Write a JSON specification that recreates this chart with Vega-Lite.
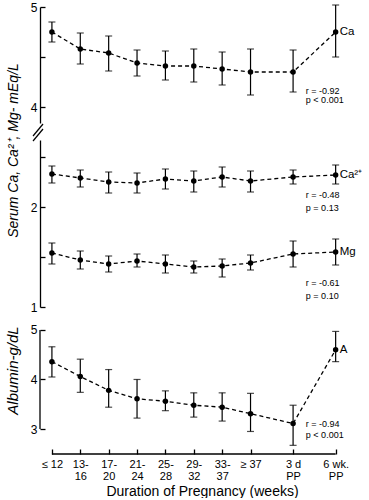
{
  "$schema": "https://vega.github.io/schema/vega-lite/v6.json",
  "padding": {"left": 5, "top": 1, "right": 0, "bottom": 0},
  "background": "white",
  "config": {
    "view": {"stroke": null},
    "font": "Liberation Sans",
    "axis": {"domainColor": "black", "tickColor": "black", "labelColor": "black", "titleColor": "black", "labelFont": "Liberation Sans", "titleFont": "Liberation Sans", "domainWidth": 1.3, "tickWidth": 1.3, "grid": false},
    "axisX": {"labelOverlap": false},
    "text": {"font": "Liberation Sans", "color": "black"}
  },
  "datasets": {
    "pts": [
      {"panel": 1, "series": "Ca", "x": 0, "mean": 4.75, "lo": 4.65, "hi": 4.85},
      {"panel": 1, "series": "Ca", "x": 1, "mean": 4.58, "lo": 4.43, "hi": 4.74},
      {"panel": 1, "series": "Ca", "x": 2, "mean": 4.54, "lo": 4.36, "hi": 4.71},
      {"panel": 1, "series": "Ca", "x": 3, "mean": 4.44, "lo": 4.31, "hi": 4.57},
      {"panel": 1, "series": "Ca", "x": 4, "mean": 4.41, "lo": 4.27, "hi": 4.56},
      {"panel": 1, "series": "Ca", "x": 5, "mean": 4.41, "lo": 4.25, "hi": 4.58},
      {"panel": 1, "series": "Ca", "x": 6, "mean": 4.38, "lo": 4.22, "hi": 4.55},
      {"panel": 1, "series": "Ca", "x": 7, "mean": 4.35, "lo": 4.12, "hi": 4.58},
      {"panel": 1, "series": "Ca", "x": 8.5, "mean": 4.35, "lo": 4.15, "hi": 4.57},
      {"panel": 1, "series": "Ca", "x": 10, "mean": 4.75, "lo": 4.50, "hi": 5.02},
      {"panel": 2, "series": "Ca²⁺", "x": 0, "mean": 2.33, "lo": 2.24, "hi": 2.41},
      {"panel": 2, "series": "Ca²⁺", "x": 1, "mean": 2.29, "lo": 2.20, "hi": 2.37},
      {"panel": 2, "series": "Ca²⁺", "x": 2, "mean": 2.25, "lo": 2.14, "hi": 2.35},
      {"panel": 2, "series": "Ca²⁺", "x": 3, "mean": 2.24, "lo": 2.14, "hi": 2.34},
      {"panel": 2, "series": "Ca²⁺", "x": 4, "mean": 2.28, "lo": 2.18, "hi": 2.38},
      {"panel": 2, "series": "Ca²⁺", "x": 5, "mean": 2.26, "lo": 2.15, "hi": 2.36},
      {"panel": 2, "series": "Ca²⁺", "x": 6, "mean": 2.30, "lo": 2.20, "hi": 2.40},
      {"panel": 2, "series": "Ca²⁺", "x": 7, "mean": 2.26, "lo": 2.15, "hi": 2.36},
      {"panel": 2, "series": "Ca²⁺", "x": 8.5, "mean": 2.30, "lo": 2.23, "hi": 2.37},
      {"panel": 2, "series": "Ca²⁺", "x": 10, "mean": 2.32, "lo": 2.23, "hi": 2.42},
      {"panel": 2, "series": "Mg", "x": 0, "mean": 1.54, "lo": 1.43, "hi": 1.64},
      {"panel": 2, "series": "Mg", "x": 1, "mean": 1.47, "lo": 1.38, "hi": 1.56},
      {"panel": 2, "series": "Mg", "x": 2, "mean": 1.43, "lo": 1.35, "hi": 1.51},
      {"panel": 2, "series": "Mg", "x": 3, "mean": 1.46, "lo": 1.40, "hi": 1.53},
      {"panel": 2, "series": "Mg", "x": 4, "mean": 1.43, "lo": 1.34, "hi": 1.52},
      {"panel": 2, "series": "Mg", "x": 5, "mean": 1.40, "lo": 1.34, "hi": 1.46},
      {"panel": 2, "series": "Mg", "x": 6, "mean": 1.41, "lo": 1.30, "hi": 1.48},
      {"panel": 2, "series": "Mg", "x": 7, "mean": 1.44, "lo": 1.37, "hi": 1.52},
      {"panel": 2, "series": "Mg", "x": 8.5, "mean": 1.53, "lo": 1.40, "hi": 1.66},
      {"panel": 2, "series": "Mg", "x": 10, "mean": 1.55, "lo": 1.42, "hi": 1.68},
      {"panel": 3, "series": "A", "x": 0, "mean": 4.36, "lo": 4.05, "hi": 4.66},
      {"panel": 3, "series": "A", "x": 1, "mean": 4.06, "lo": 3.74, "hi": 4.41},
      {"panel": 3, "series": "A", "x": 2, "mean": 3.78, "lo": 3.44, "hi": 4.20},
      {"panel": 3, "series": "A", "x": 3, "mean": 3.61, "lo": 3.22, "hi": 4.00},
      {"panel": 3, "series": "A", "x": 4, "mean": 3.56, "lo": 3.37, "hi": 3.77},
      {"panel": 3, "series": "A", "x": 5, "mean": 3.48, "lo": 3.24, "hi": 3.73},
      {"panel": 3, "series": "A", "x": 6, "mean": 3.44, "lo": 3.16, "hi": 3.73},
      {"panel": 3, "series": "A", "x": 7, "mean": 3.31, "lo": 2.95, "hi": 3.72},
      {"panel": 3, "series": "A", "x": 8.5, "mean": 3.11, "lo": 2.67, "hi": 3.48},
      {"panel": 3, "series": "A", "x": 10, "mean": 4.60, "lo": 4.36, "hi": 4.97}
    ],
    "notes": [
      {"panel": 1, "x": 8.95, "y": 4.16, "text": "r = -0.92"},
      {"panel": 1, "x": 8.95, "y": 4.07, "text": "p < 0.001"},
      {"panel": 2, "x": 8.95, "y": 2.12, "text": "r = -0.48"},
      {"panel": 2, "x": 8.95, "y": 1.99, "text": "p = 0.13"},
      {"panel": 2, "x": 8.95, "y": 1.24, "text": "r = -0.61"},
      {"panel": 2, "x": 8.95, "y": 1.11, "text": "p = 0.10"},
      {"panel": 3, "x": 8.95, "y": 3.10, "text": "r = -0.94"},
      {"panel": 3, "x": 8.95, "y": 2.88, "text": "p < 0.001"}
    ],
    "breakmarks": [
      {"xa": -0.666, "xb": -0.314, "ya": 3.71, "yb": 3.83},
      {"xa": -0.666, "xb": -0.314, "ya": 3.66, "yb": 3.78}
    ],
    "xrange": [
      {"xa": 0, "xb": 10, "y": 2.495}
    ]
  },
  "bounds": "flush",
  "spacing": 17,
  "vconcat": [
    {
      "width": 307,
      "height": 116,
      "layer": [
        {
          "data": {"name": "pts"},
          "transform": [{"filter": "datum.panel == 1"}],
          "layer": [
            {"mark": {"type": "line", "strokeDash": [4, 3], "strokeWidth": 1.3, "color": "black"},
             "encoding": {
               "x": {"field": "x", "type": "quantitative", "scale": {"domain": [-0.42, 10.4], "nice": false, "zero": false}, "axis": null},
               "y": {"field": "mean", "type": "quantitative", "title": null, "scale": {"domain": [3.84, 5], "nice": false, "zero": false},
                     "axis": {"values": [4, 4.5, 5], "labelExpr": "datum.value % 1 == 0 ? format(datum.value, 'd') : ''", "tickSize": -5, "labelPadding": 8, "labelFontSize": 12}},
               "detail": {"field": "series"}}},
            {"mark": {"type": "rule", "strokeWidth": 1.2, "color": "black"},
             "encoding": {"x": {"field": "x", "type": "quantitative"}, "y": {"field": "lo", "type": "quantitative", "title": null}, "y2": {"field": "hi"}}},
            {"mark": {"type": "tick", "orient": "horizontal", "size": 7, "thickness": 1.2, "color": "black"},
             "encoding": {"x": {"field": "x", "type": "quantitative"}, "y": {"field": "lo", "type": "quantitative", "title": null}}},
            {"mark": {"type": "tick", "orient": "horizontal", "size": 7, "thickness": 1.2, "color": "black"},
             "encoding": {"x": {"field": "x", "type": "quantitative"}, "y": {"field": "hi", "type": "quantitative", "title": null}}},
            {"mark": {"type": "point", "filled": true, "size": 30, "color": "black", "opacity": 1},
             "encoding": {"x": {"field": "x", "type": "quantitative"}, "y": {"field": "mean", "type": "quantitative", "title": null}}},
            {"mark": {"type": "text", "align": "left", "dx": 4, "fontSize": 11.5, "baseline": "middle"},
             "transform": [{"filter": "datum.x == 10"}],
             "encoding": {"x": {"field": "x", "type": "quantitative"}, "y": {"field": "mean", "type": "quantitative", "title": null}, "text": {"field": "series"}}}
          ]
        },
        {
          "data": {"name": "notes"},
          "transform": [{"filter": "datum.panel == 1"}],
          "mark": {"type": "text", "align": "left", "baseline": "middle", "fontSize": 9},
          "encoding": {"x": {"field": "x", "type": "quantitative"}, "y": {"field": "y", "type": "quantitative", "title": null}, "text": {"field": "text"}}
        },
        {
          "data": {"name": "breakmarks"},
          "mark": {"type": "rule", "strokeWidth": 1.2, "color": "black"},
          "encoding": {"x": {"field": "xa", "type": "quantitative"}, "x2": {"field": "xb"}, "y": {"field": "ya", "type": "quantitative", "title": null}, "y2": {"field": "yb"}}
        }
      ]
    },
    {
      "width": 307,
      "height": 167,
      "layer": [
        {
          "data": {"name": "pts"},
          "transform": [{"filter": "datum.panel == 2"}],
          "layer": [
            {"mark": {"type": "line", "strokeDash": [4, 3], "strokeWidth": 1.3, "color": "black"},
             "encoding": {
               "x": {"field": "x", "type": "quantitative", "scale": {"domain": [-0.42, 10.4], "nice": false, "zero": false}, "axis": null},
               "y": {"field": "mean", "type": "quantitative", "title": "Serum Ca, Ca²⁺, Mg- mEq/L", "scale": {"domain": [1, 2.67], "nice": false, "zero": false},
                     "axis": {"values": [1, 1.5, 2, 2.5], "labelExpr": "datum.value % 1 == 0 ? format(datum.value, 'd') : ''", "tickSize": -5, "labelPadding": 8, "labelFontSize": 12,
                              "titleFontSize": 14, "titleFontStyle": "italic", "titleFontWeight": "normal", "titlePadding": 10, "titleY": 10}},
               "detail": {"field": "series"}}},
            {"mark": {"type": "rule", "strokeWidth": 1.2, "color": "black"},
             "encoding": {"x": {"field": "x", "type": "quantitative"}, "y": {"field": "lo", "type": "quantitative", "title": "Serum Ca, Ca²⁺, Mg- mEq/L"}, "y2": {"field": "hi"}}},
            {"mark": {"type": "tick", "orient": "horizontal", "size": 7, "thickness": 1.2, "color": "black"},
             "encoding": {"x": {"field": "x", "type": "quantitative"}, "y": {"field": "lo", "type": "quantitative", "title": "Serum Ca, Ca²⁺, Mg- mEq/L"}}},
            {"mark": {"type": "tick", "orient": "horizontal", "size": 7, "thickness": 1.2, "color": "black"},
             "encoding": {"x": {"field": "x", "type": "quantitative"}, "y": {"field": "hi", "type": "quantitative", "title": "Serum Ca, Ca²⁺, Mg- mEq/L"}}},
            {"mark": {"type": "point", "filled": true, "size": 30, "color": "black", "opacity": 1},
             "encoding": {"x": {"field": "x", "type": "quantitative"}, "y": {"field": "mean", "type": "quantitative", "title": "Serum Ca, Ca²⁺, Mg- mEq/L"}}},
            {"mark": {"type": "text", "align": "left", "dx": 4, "fontSize": 11.5, "baseline": "middle"},
             "transform": [{"filter": "datum.x == 10"}],
             "encoding": {"x": {"field": "x", "type": "quantitative"}, "y": {"field": "mean", "type": "quantitative", "title": "Serum Ca, Ca²⁺, Mg- mEq/L"}, "text": {"field": "series"}}}
          ]
        },
        {
          "data": {"name": "notes"},
          "transform": [{"filter": "datum.panel == 2"}],
          "mark": {"type": "text", "align": "left", "baseline": "middle", "fontSize": 9},
          "encoding": {"x": {"field": "x", "type": "quantitative"}, "y": {"field": "y", "type": "quantitative", "title": "Serum Ca, Ca²⁺, Mg- mEq/L"}, "text": {"field": "text"}}
        }
      ]
    },
    {
      "width": 307,
      "height": 105,
      "encoding": {
        "x": {"type": "quantitative", "title": "Duration of Pregnancy (weeks)", "scale": {"domain": [-0.42, 10.4], "nice": false, "zero": false},
              "axis": {"values": [0, 1, 2, 3, 4, 5, 6, 7, 8.5, 10], "domain": false, "offset": 20, "tickSize": 5, "labelPadding": 4, "labelFontSize": 11, "labelLineHeight": 12, "labelAngle": 0, "labelOverlap": false,
                       "labelExpr": "datum.value == 0 ? '≤ 12' : datum.value == 1 ? ['13-','16'] : datum.value == 2 ? ['17-','20'] : datum.value == 3 ? ['21-','24'] : datum.value == 4 ? ['25-','28'] : datum.value == 5 ? ['29-','32'] : datum.value == 6 ? ['33-','37'] : datum.value == 7 ? '≥ 37' : datum.value == 8.5 ? ['3 d','PP'] : ['6 wk.','PP']",
                       "titleFontSize": 14, "titleFontWeight": "normal", "titlePadding": 3, "titleX": 162}}
      },
      "layer": [
        {
          "data": {"name": "pts"},
          "transform": [{"filter": "datum.panel == 3"}],
          "layer": [
            {"mark": {"type": "line", "strokeDash": [4, 3], "strokeWidth": 1.3, "color": "black"},
             "encoding": {
               "x": {"field": "x"},
               "y": {"field": "mean", "type": "quantitative", "title": "Albumin-g/dL", "scale": {"domain": [3, 5.12], "nice": false, "zero": false},
                     "axis": {"values": [3, 4, 5], "domain": false, "labelExpr": "format(datum.value, 'd')", "tickSize": -5, "labelPadding": 8, "labelFontSize": 12,
                              "titleFontSize": 15, "titleFontStyle": "italic", "titleFontWeight": "normal", "titlePadding": 10, "titleY": 46}},
               "detail": {"field": "series"}}},
            {"mark": {"type": "rule", "strokeWidth": 1.2, "color": "black"},
             "encoding": {"x": {"field": "x"}, "y": {"field": "lo", "type": "quantitative", "title": "Albumin-g/dL"}, "y2": {"field": "hi"}}},
            {"mark": {"type": "tick", "orient": "horizontal", "size": 7, "thickness": 1.2, "color": "black"},
             "encoding": {"x": {"field": "x"}, "y": {"field": "lo", "type": "quantitative", "title": "Albumin-g/dL"}}},
            {"mark": {"type": "tick", "orient": "horizontal", "size": 7, "thickness": 1.2, "color": "black"},
             "encoding": {"x": {"field": "x"}, "y": {"field": "hi", "type": "quantitative", "title": "Albumin-g/dL"}}},
            {"mark": {"type": "point", "filled": true, "size": 30, "color": "black", "opacity": 1},
             "encoding": {"x": {"field": "x"}, "y": {"field": "mean", "type": "quantitative", "title": "Albumin-g/dL"}}},
            {"mark": {"type": "text", "align": "left", "dx": 4, "fontSize": 11.5, "baseline": "middle"},
             "transform": [{"filter": "datum.x == 10"}],
             "encoding": {"x": {"field": "x"}, "y": {"field": "mean", "type": "quantitative", "title": "Albumin-g/dL"}, "text": {"field": "series"}}}
          ]
        },
        {
          "data": {"name": "notes"},
          "transform": [{"filter": "datum.panel == 3"}],
          "mark": {"type": "text", "align": "left", "baseline": "middle", "fontSize": 9},
          "encoding": {"x": {"field": "x"}, "y": {"field": "y", "type": "quantitative", "title": "Albumin-g/dL"}, "text": {"field": "text"}}
        },
        {
          "data": {"name": "xrange"},
          "mark": {"type": "rule", "strokeWidth": 1.3, "color": "black"},
          "encoding": {"x": {"field": "xa"}, "x2": {"field": "xb"}, "y": {"field": "y", "type": "quantitative", "title": "Albumin-g/dL"}}
        },
        {
          "data": {"name": "xrange"},
          "mark": {"type": "rule", "strokeWidth": 1.3, "color": "black"},
          "encoding": {"x": {"datum": -0.42}, "y": {"datum": 3, "type": "quantitative"}, "y2": {"datum": 5}}
        }
      ]
    }
  ]
}
